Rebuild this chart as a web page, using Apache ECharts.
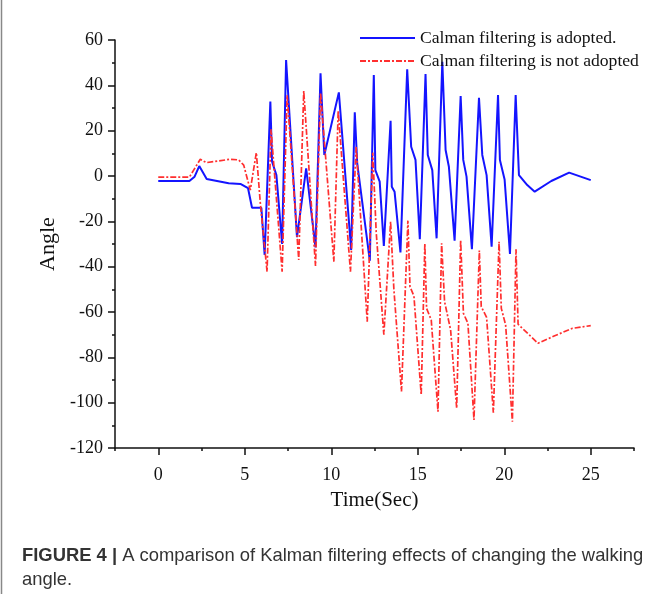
<!DOCTYPE html>
<html>
<head>
<meta charset="utf-8">
<script src="https://cdn.jsdelivr.net/npm/echarts@6/dist/echarts.min.js"></script>
<style>
html,body{margin:0;padding:0;background:#fff;}
#c{width:668px;height:594px;}
</style>
</head>
<body>
<div id="c"></div>
<script>
const seriesNames = ['Calman filtering is adopted.', 'Calman filtering is not adopted'];
const xTickLabels = [0, 5, 10, 15, 20, 25];
const xMinorTicks = [-2.5, 2.5, 7.5, 12.5, 17.5, 22.5, 27.5];
const yTickLabels = [60, 40, 20, 0, -20, -40, -60, -80, -100, -120];

const timeBlue = [0, 1.8, 2.1, 2.37, 2.8, 4.07, 4.75, 5.19, 5.42, 5.96, 6.15, 6.48, 6.58, 6.83, 7.16, 7.39, 8.02, 8.55, 9.09, 9.38, 9.6, 10.44, 11.15, 11.36, 11.5, 12.23, 12.46, 12.55, 12.8, 13.04, 13.43, 13.5, 13.66, 14.0, 14.39, 14.62, 14.87, 15.12, 15.45, 15.58, 15.84, 16.09, 16.42, 16.61, 16.8, 17.13, 17.48, 17.63, 17.82, 18.13, 18.54, 18.73, 18.98, 19.27, 19.64, 19.75, 20.02, 20.33, 20.66, 20.85, 21.33, 21.76, 22.72, 23.75, 25.0];
const angleBlue = [-2.2, -2.2, -0.3, 4.4, -1.3, -3.2, -3.5, -5.4, -14, -14, -34.8, 32.8, 6.3, 0.4, -30, 51.2, -27, 3.4, -31.5, 45.3, 9.3, 36.9, -32.6, 28.1, 5.7, -37.4, 44.5, 2.6, -2.5, -30.9, 24.4, -4.7, -6.9, -33.7, 47.1, 12.9, 7.1, -27.9, 45, 9.3, 2.6, -27.5, 50.4, 11.5, 4.1, -28.5, 35.3, 7.1, -0.3, -32.3, 34.5, 9.3, 0.4, -31.2, 35.7, 7.1, -1.5, -34.4, 35.7, 0.4, -4, -6.9, -2.2, 1.5, -1.8];

const timeRed = [0, 1.8, 2.43, 2.78, 4.17, 4.65, 4.94, 5.32, 5.67, 5.9, 6.29, 6.52, 7.16, 7.45, 8.12, 8.41, 9.09, 9.38, 10.15, 10.4, 11.11, 11.44, 12.08, 12.4, 12.6, 13.04, 13.43, 13.62, 14.06, 14.43, 14.55, 14.78, 15.2, 15.41, 15.51, 15.78, 16.17, 16.38, 16.55, 16.9, 17.25, 17.48, 17.64, 17.9, 18.25, 18.56, 18.67, 18.98, 19.37, 19.7, 19.83, 20.08, 20.47, 20.68, 20.8, 21.95, 22.88, 23.94, 25.0];
const angleRed = [-0.5, -0.5, 7.4, 5.9, 7.4, 7.1, 4.8, -6.2, 10.3, -12, -42.2, 20.6, -42.2, 35.7, -37, 37.5, -39.7, 36.8, -37.8, 28.8, -42.2, 12.9, -64.3, 10.3, -25, -70, -20.1, -50, -95.1, -19.7, -48.8, -53, -96.6, -29.7, -58.4, -63.5, -104, -29.7, -55.4, -67.9, -102.5, -28.2, -60.6, -65, -107.6, -32.9, -57.6, -62.4, -104.4, -29, -58.4, -65.7, -108.4, -32.3, -65.4, -73.8, -70.6, -67.2, -66];

const blueData = timeBlue.map((t, i) => [t, angleBlue[i]]);
const redData = timeRed.map((t, i) => [t, angleRed[i]]);

const serif = 'Liberation Serif';
const chart = echarts.init(document.getElementById('c'), null, {renderer: 'canvas'});
chart.setOption({
  animation: false,
  backgroundColor: '#fff',
  grid: {left: 115, top: 40, right: 34, bottom: 146, containLabel: false},
  legend: {
    orient: 'vertical', left: 354, top: 24, itemWidth: 55, itemHeight: 12, itemGap: 5,
    data: seriesNames,
    itemStyle: {opacity: 0},
    textStyle: {fontFamily: serif, fontSize: 17.6, color: '#111', padding: [0, 0, 0, 0]}
  },
  title: {
    left: 17, top: 539,
    text: '{b|FIGURE 4 |} A comparison of Kalman filtering effects of changing the walking\nangle.',
    textStyle: {
      fontFamily: 'Liberation Sans', fontSize: 18.4, fontWeight: 'normal', color: '#333', lineHeight: 24,
      rich: {b: {fontFamily: 'Liberation Sans', fontSize: 18.4, fontWeight: 'bold', color: '#333'}}
    }
  },
  xAxis: [{
    type: 'value', min: -2.5, max: 27.5,
    name: 'Time(Sec)', nameLocation: 'middle', nameGap: 42,
    nameTextStyle: {fontFamily: serif, fontSize: 21, color: '#111'},
    axisLine: {show: true, onZero: false, lineStyle: {color: '#111', width: 1.5}},
    axisTick: {show: true, customValues: xTickLabels, length: 7, lineStyle: {color: '#111', width: 1.5}},
    axisLabel: {show: true, customValues: xTickLabels, margin: 18, fontFamily: serif, fontSize: 18, color: '#111'},
    splitLine: {show: false}
  }, {
    type: 'value', min: -2.5, max: 27.5, position: 'bottom',
    axisLine: {show: false, onZero: false},
    axisTick: {show: true, customValues: xMinorTicks, length: 3, lineStyle: {color: '#111', width: 1.5}},
    axisLabel: {show: false},
    splitLine: {show: false}
  }],
  yAxis: {
    type: 'value', min: -120, max: 60, interval: 20,
    name: 'Angle', nameLocation: 'middle', nameGap: 44, nameRotate: 90,
    nameTextStyle: {fontFamily: serif, fontSize: 22, color: '#111'},
    axisLine: {show: true, onZero: false, lineStyle: {color: '#111', width: 1.5}},
    axisTick: {show: true, length: 7, lineStyle: {color: '#111', width: 1.5}},
    minorTick: {show: true, splitNumber: 2, length: 3, lineStyle: {color: '#111', width: 1.5}},
    axisLabel: {margin: 12, fontFamily: serif, fontSize: 18, color: '#111',
      formatter: v => yTickLabels.includes(v) ? String(v) : ''},
    splitLine: {show: false}
  },
  graphic: [{
    type: 'line', shape: {x1: 1.5, y1: 0, x2: 1.5, y2: 594},
    style: {stroke: '#888', lineWidth: 1.5}
  }],
  series: [{
    name: seriesNames[0], type: 'line', data: blueData, xAxisIndex: 0,
    showSymbol: false, symbol: 'none',
    lineStyle: {color: '#1414ff', width: 2}, itemStyle: {color: '#1414ff'}
  }, {
    name: seriesNames[1], type: 'line', data: redData, xAxisIndex: 0,
    showSymbol: false, symbol: 'none',
    lineStyle: {color: '#ff2f2f', width: 1.7, type: [6, 2, 2, 2]}, itemStyle: {color: '#ff2f2f'}
  }]
});
</script>
</body>
</html>
